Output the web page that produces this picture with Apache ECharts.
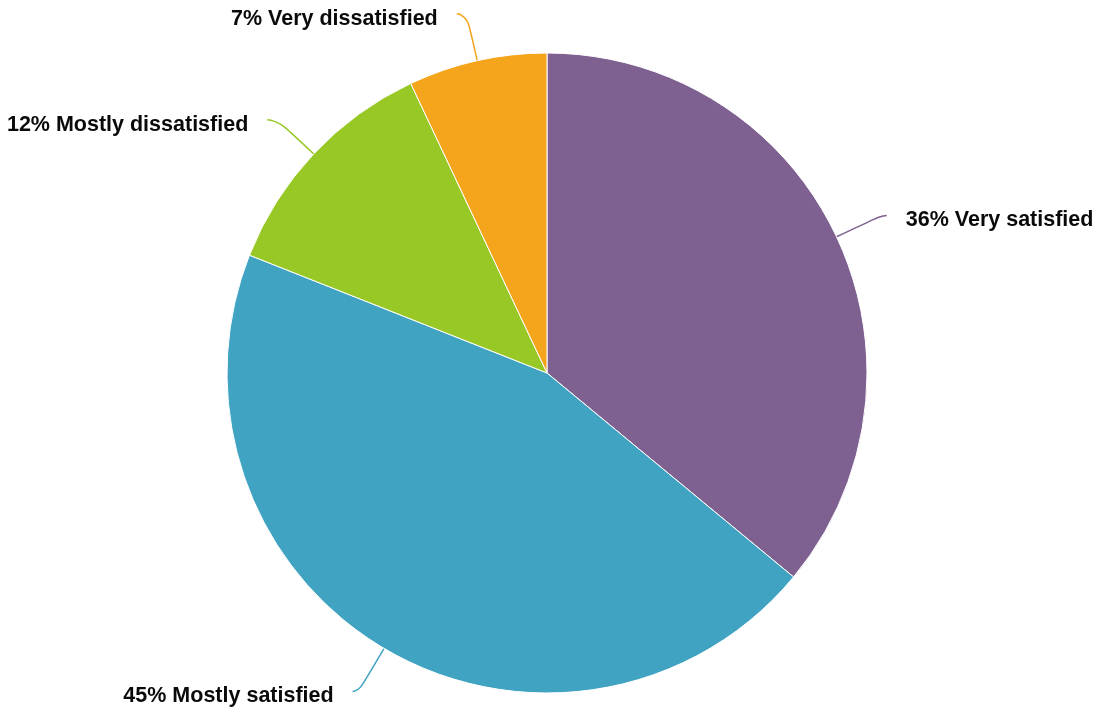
<!DOCTYPE html>
<html>
<head>
<meta charset="utf-8">
<script src="https://cdn.jsdelivr.net/npm/echarts@6/dist/echarts.min.js"></script>
<style>
  html, body { margin: 0; padding: 0; background: #fff; }
  #chart { width: 1101px; height: 713px; }
</style>
</head>
<body>
<div id="chart"></div>
<script>
// 数据
const categories = ['Very satisfied', 'Mostly satisfied', 'Mostly dissatisfied', 'Very dissatisfied']
const shares = [36, 45, 12, 7]

// 样式
const colors = ['#7e6190', '#40a3c2', '#97c826', '#f4a51c']
const lineLengths = [50, 50, 50, 48]
const lineLengths2 = [5, 6, 10, 10]

const chart = echarts.init(document.getElementById('chart'))

const pieData = categories.map((name, i) => ({
  name: name,
  value: shares[i],
  itemStyle: { color: colors[i] },
  labelLine: { length: lineLengths[i], length2: lineLengths2[i] }
}))

const option = {
  animation: false,
  series: [
    {
      type: 'pie',
      center: [547, 373],
      radius: 320,
      startAngle: 90,
      clockwise: true,
      avoidLabelOverlap: false,
      itemStyle: { borderColor: '#fff', borderWidth: 1 },
      label: {
        show: true,
        formatter: '{t|{c}% {b}}',
        distanceToLabelLine: 19,
        rich: {
          t: {
            fontFamily: 'Liberation Sans, Arial, sans-serif',
            fontWeight: 'bold',
            fontSize: 21.5,
            color: '#0a0a0a',
            padding: [10, 0, 0, 0]
          }
        }
      },
      labelLine: {
        show: true,
        smooth: 0.7,
        lineStyle: { width: 1.5 }
      },
      data: pieData
    }
  ]
}

chart.setOption(option)
</script>
</body>
</html>
